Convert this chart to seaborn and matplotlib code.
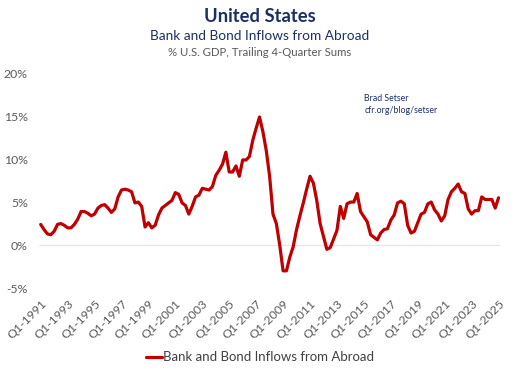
import pandas as pd
import seaborn as sns
import matplotlib.pyplot as plt
import matplotlib.ticker as mticker

# Bank and bond inflows from abroad, % of U.S. GDP (trailing 4-quarter sums)
# one value per quarter, Q1-1991 .. Q1-2025
years = list(range(1991, 2026))
inflows = [
    2.4, 1.8, 1.3, 1.2,     # 1991
    1.6, 2.4, 2.5, 2.3,     # 1992
    2.0, 2.0, 2.4, 3.0,     # 1993
    3.9, 3.9, 3.7, 3.4,     # 1994
    3.6, 4.3, 4.6, 4.7,     # 1995
    4.3, 3.8, 4.2, 5.6,     # 1996
    6.4, 6.5, 6.4, 6.2,     # 1997
    4.9, 5.0, 4.5, 2.1,     # 1998
    2.6, 2.0, 2.3, 3.5,     # 1999
    4.3, 4.6, 4.9, 5.2,     # 2000
    6.1, 5.9, 4.9, 4.6,     # 2001
    3.6, 4.5, 5.6, 5.8,     # 2002
    6.6, 6.5, 6.4, 6.8,     # 2003
    8.1, 8.7, 9.4, 10.8,    # 2004
    8.5, 8.5, 9.2, 8.0,     # 2005
    9.9, 9.9, 10.3, 12.2,   # 2006
    13.6, 14.9, 13.2, 11.0, # 2007
    8.0, 3.6, 2.5, 0.0,     # 2008
    -3.0, -3.0, -1.4, -0.2, # 2009
    1.8, 3.4, 4.9, 6.5,     # 2010
    8.0, 7.2, 5.2, 2.5,     # 2011
    1.0, -0.5, -0.3, 0.7,   # 2012
    1.7, 4.5, 3.1, 4.8,     # 2013
    5.0, 5.0, 6.0, 3.9,     # 2014
    3.3, 2.7, 1.2, 0.9,     # 2015
    0.6, 1.4, 1.8, 1.9,     # 2016
    2.9, 3.5, 4.9, 5.1,     # 2017
    4.8, 2.3, 1.4, 1.6,     # 2018
    2.6, 3.6, 3.8, 4.8,     # 2019
    5.0, 4.1, 3.6, 2.8,     # 2020
    3.4, 5.3, 6.2, 6.6,     # 2021
    7.1, 6.2, 6.0, 4.2,     # 2022
    3.6, 4.0, 4.0, 5.6,     # 2023
    5.3, 5.3, 5.3, 4.3,     # 2024
    5.5,                    # 2025
]
quarters = [f"Q{q}-{y}" for y in years for q in range(1, 5)][:len(inflows)]
tick_labels = [f"Q1-{y}" for y in range(1991, 2026, 2)]

df = pd.DataFrame({"quarter": quarters, "value": inflows})
df["pos"] = range(len(df))

sns.set_style("white")
plt.rcParams["font.family"] = ["Lato", "DejaVu Sans"]

navy = "#1b2f66"
grey = "#595959"
red = "#c00000"

fig = plt.figure(figsize=(5.2, 3.77), dpi=100)
ax = fig.add_axes([0.075, 0.236, 0.887, 0.57])

sns.lineplot(data=df, x="pos", y="value", color=red, linewidth=2.3,
             label="Bank and Bond Inflows from Abroad", legend=False, ax=ax)

ax.axhline(0, color="#e6e6e6", linewidth=0.9, zorder=0)
ax.set_ylim(-5, 20)
ax.set_xlim(-0.5, 136.5)
ax.yaxis.set_major_locator(mticker.MultipleLocator(5))
ax.yaxis.set_major_formatter(mticker.FuncFormatter(lambda v, p: f"{v:.0f}%"))

tick_pos = [df.index[df["quarter"] == t][0] for t in tick_labels]
ax.set_xticks(tick_pos)
ax.set_xticklabels(tick_labels, rotation=45, ha="right", va="top",
                   rotation_mode="anchor")
ax.tick_params(axis="both", length=0, labelsize=8.8, labelcolor=grey)
ax.tick_params(axis="x", pad=7)
ax.tick_params(axis="y", pad=8)
ax.set_xlabel("")
ax.set_ylabel("")
sns.despine(ax=ax, left=True, bottom=True)

fig.text(0.5, 0.955, "United States", ha="center", va="center",
         fontsize=13.2, fontweight="bold", color=navy)
fig.text(0.5, 0.905, "Bank and Bond Inflows from Abroad", ha="center",
         va="center", fontsize=9.8, color=navy)
fig.text(0.5, 0.862, "% U.S. GDP, Trailing 4-Quarter Sums", ha="center",
         va="center", fontsize=8.2, color=grey)
ax.text(0.705, 0.905, "Brad Setser\ncfr.org/blog/setser", transform=ax.transAxes,
        ha="left", va="top", fontsize=6.3, color=navy, linespacing=1.45)

handles, labels = ax.get_legend_handles_labels()
fig.legend(handles, labels, loc="center", bbox_to_anchor=(0.5, 0.052),
           frameon=False, fontsize=9.5, handlelength=1.2, handletextpad=0.1,
           labelcolor="#404040")

fig.savefig("out.png", dpi=100)
